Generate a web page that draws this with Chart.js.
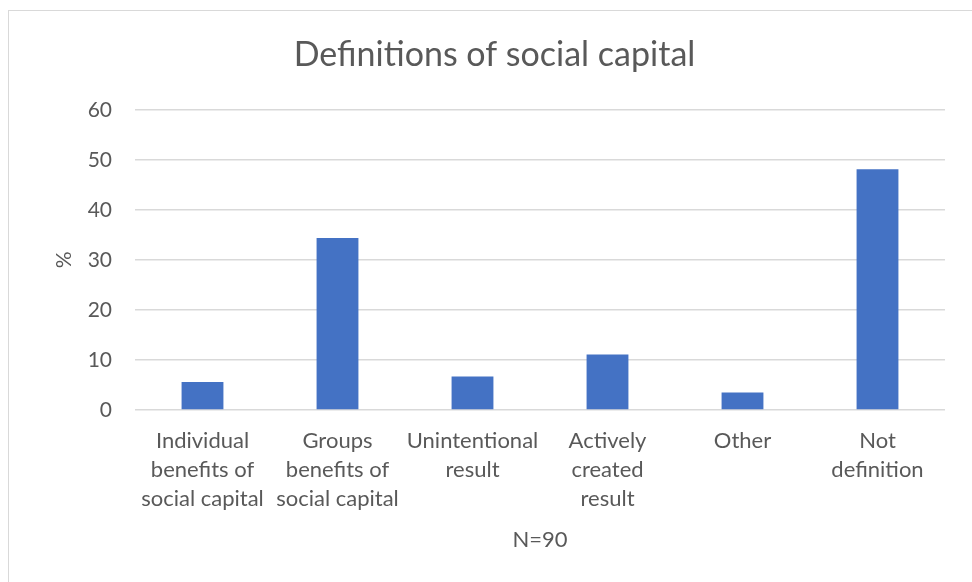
<!DOCTYPE html>
<html>
<head>
<meta charset="utf-8">
<script src="https://cdn.jsdelivr.net/npm/chart.js@4"></script>
<style>
  html, body { margin: 0; padding: 0; background: #fff; }
  #wrap { position: relative; width: 972px; height: 582px; }
  #frame {
    position: absolute; left: 8px; top: 10px; right: -2px; bottom: -2px;
    border-left: 1px solid #d9d9d9; border-top: 1px solid #d9d9d9;
    pointer-events: none;
  }
</style>
</head>
<body>
<div id="wrap">
  <canvas id="defChart" width="972" height="582"></canvas>
  <div id="frame"></div>
</div>
<script>
// categories (multi-line labels) and share of respondents in %
const categories = [
  ['Individual', 'benefits of', 'social capital'],
  ['Groups', 'benefits of', 'social capital'],
  ['Unintentional', 'result'],
  ['Actively', 'created', 'result'],
  ['Other'],
  ['Not', 'definition']
];
const percentValues = [5.6, 34.4, 6.7, 11.1, 3.5, 48.1];
const yTicks = [0, 10, 20, 30, 40, 50, 60];

const fontFamily = 'Lato, "Open Sans", sans-serif';
const textGray = '#595959';
const gridGray = '#d9d9d9';

const ctx = document.getElementById('defChart').getContext('2d');
window.defChart = new Chart(ctx, {
  type: 'bar',
  data: {
    labels: categories,
    datasets: [{
      label: '%',
      data: percentValues,
      backgroundColor: '#4472c4',
      borderWidth: 0,
      categoryPercentage: 1,
      barPercentage: 0.31
    }]
  },
  options: {
    responsive: false,
    animation: false,
    layout: { padding: { left: 22, right: 5, top: 0, bottom: 0 } },
    plugins: {
      legend: { display: false },
      tooltip: { enabled: false },
      title: {
        display: true,
        text: 'Definitions of social capital',
        color: textGray,
        font: { family: fontFamily, size: 34, weight: 'normal' },
        padding: { top: 35, bottom: 34 }
      }
    },
    scales: {
      x: {
        grid: { display: false, drawTicks: false },
        border: { display: false },
        ticks: {
          color: textGray,
          font: { family: fontFamily, size: 22, lineHeight: 1.32 },
          padding: 16,
          maxRotation: 0,
          autoSkip: false
        },
        title: {
          display: true,
          text: 'N=90',
          color: textGray,
          font: { family: fontFamily, size: 22 },
          padding: { top: 0, bottom: 29 }
        },
        afterFit: (scale) => { scale.height = 172; }
      },
      y: {
        min: 0,
        max: 60,
        afterBuildTicks: (scale) => { scale.ticks = yTicks.map(v => ({ value: v })); },
        grid: { color: gridGray, lineWidth: 1.5, drawTicks: false },
        border: { display: false },
        ticks: {
          color: textGray,
          font: { family: fontFamily, size: 21 },
          padding: 23
        },
        title: {
          display: true,
          text: '%',
          color: textGray,
          font: { family: fontFamily, size: 21 },
          padding: { top: 30, bottom: 0 }
        },
        afterFit: (scale) => { scale.width = 113; }
      },
      // empty spacer on the right so the plot ends before the frame edge
      spacer: {
        type: 'linear',
        position: 'right',
        grid: { display: false },
        border: { display: false },
        ticks: { display: false },
        afterFit: (scale) => { scale.width = 22; }
      }
    }
  }
});
</script>
</body>
</html>
